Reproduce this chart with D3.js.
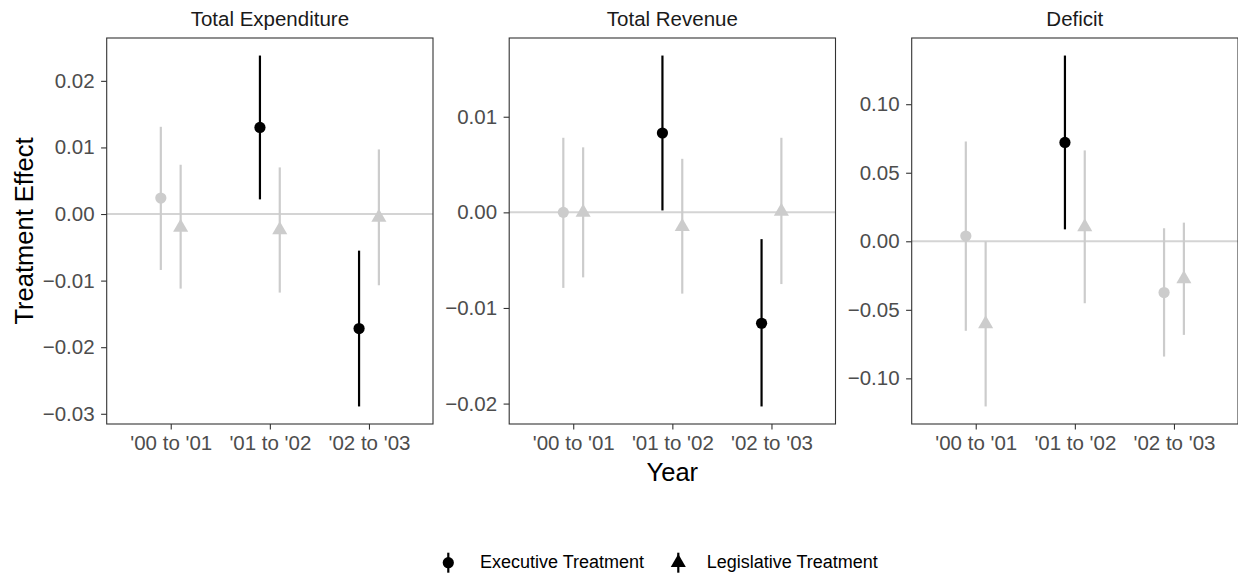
<!DOCTYPE html>
<html>
<head>
<meta charset="utf-8">
<script src="https://cdn.jsdelivr.net/npm/d3@7"></script>
<style>
  html, body { margin: 0; padding: 0; background: #ffffff; }
  svg { display: block; }
  text { font-family: "Liberation Sans", Arial, Helvetica, sans-serif; }
</style>
</head>
<body>
<svg id="chart" width="1238" height="586"></svg>
<script>
// Facets, x categories and the two treatment series
const outcomes = ["Total Expenditure", "Total Revenue", "Deficit"];
const categories = ["'00 to '01", "'01 to '02", "'02 to '03"];
const treatments = ["Executive Treatment", "Legislative Treatment"];

// Executive treatment: estimate and 95% interval, one row per outcome
const execEstimate = [
  [0.0024, 0.0130, -0.0172],
  [0.0000, 0.0083, -0.0116],
  [0.0038, 0.0721, -0.0374]
];
const execLower = [
  [-0.0084, 0.0022, -0.0289],
  [-0.0079, 0.0002, -0.0203],
  [-0.0653, 0.0087, -0.0841]
];
const execUpper = [
  [0.0131, 0.0238, -0.0055],
  [0.0078, 0.0164, -0.0028],
  [0.0728, 0.1355, 0.0095]
];

// Legislative treatment: estimate and 95% interval, one row per outcome
const legEstimate = [
  [-0.0020, -0.0024, -0.0005],
  [0.0000, -0.0015, 0.0001],
  [-0.0603, 0.0105, -0.0274]
];
const legLower = [
  [-0.0112, -0.0118, -0.0107],
  [-0.0068, -0.0085, -0.0075],
  [-0.1205, -0.0452, -0.0683]
];
const legUpper = [
  [0.0074, 0.0070, 0.0097],
  [0.0068, 0.0056, 0.0078],
  [0.0000, 0.0663, 0.0136]
];

// Y tick values per facet
const yTicks = [
  [-0.03, -0.02, -0.01, 0.00, 0.01, 0.02],
  [-0.02, -0.01, 0.00, 0.01],
  [-0.10, -0.05, 0.00, 0.05, 0.10]
];

// ---- layout ----
const panelTop = 38, panelBottom = 424;
const panelWidth = 326.3;
const panelLeft0 = 106.7, panelGap = 402.5;
const tickLen = 5.6;
const dodge = 0.1;           // fraction of the category step
const sigColor = "#000000", nsColor = "#cccccc";
const circleR = 5.6, triR = 8.7;
const tickFont = "20.5px", stripFont = "20.5px", titleFont = "25.5px", legendFont = "18px";

const svg = d3.select("#chart");

function trianglePath(r) {
  const h = r * Math.sqrt(3) / 2;
  return `M0,${-r}L${h},${r / 2}L${-h},${r / 2}Z`;
}

const fmt = d3.format(".2f");

outcomes.forEach((outcome, i) => {
  const left = panelLeft0 + i * panelGap;
  const g = svg.append("g").attr("transform", `translate(${left},0)`);

  // records for this facet
  const rows = [];
  categories.forEach((c, j) => {
    rows.push({ cat: c, type: 0, est: execEstimate[i][j], lo: execLower[i][j], hi: execUpper[i][j] });
    rows.push({ cat: c, type: 1, est: legEstimate[i][j], lo: legLower[i][j], hi: legUpper[i][j] });
  });

  const x = d3.scalePoint().domain(categories).range([0, panelWidth]).padding(0.646);
  const step = x.step();
  const xPos = d => x(d.cat) + (d.type === 0 ? -dodge : dodge) * step;

  const lo = d3.min(rows, d => d.lo), hi = d3.max(rows, d => d.hi);
  const pad = (hi - lo) * 0.05;
  const y = d3.scaleLinear().domain([lo - pad, hi + pad]).range([panelBottom, panelTop]);

  const color = d => (d.lo > 0 || d.hi < 0) ? sigColor : nsColor;

  // zero reference line
  g.append("line")
    .attr("x1", 0).attr("x2", panelWidth)
    .attr("y1", y(0)).attr("y2", y(0))
    .attr("stroke", "#d4d4d4").attr("stroke-width", 2);

  // gray marks first, significant marks on top
  const ordered = rows.slice().sort((a, b) => (color(a) === sigColor) - (color(b) === sigColor));

  g.selectAll("line.ci").data(ordered).enter().append("line")
    .attr("class", "ci")
    .attr("x1", xPos).attr("x2", xPos)
    .attr("y1", d => y(d.lo)).attr("y2", d => y(d.hi))
    .attr("stroke", color).attr("stroke-width", 2.2);

  g.selectAll("circle.pt").data(ordered.filter(d => d.type === 0)).enter().append("circle")
    .attr("class", "pt")
    .attr("cx", xPos).attr("cy", d => y(d.est)).attr("r", circleR)
    .attr("fill", color);

  g.selectAll("path.pt").data(ordered.filter(d => d.type === 1)).enter().append("path")
    .attr("class", "pt")
    .attr("d", trianglePath(triR))
    .attr("transform", d => `translate(${xPos(d)},${y(d.est)})`)
    .attr("fill", color);

  // y axis
  const yAxis = d3.axisLeft(y).tickValues(yTicks[i]).tickFormat(fmt).tickSize(tickLen).tickPadding(6.5);
  const ya = g.append("g").call(yAxis);
  ya.select(".domain").remove();
  ya.selectAll(".tick line").attr("stroke", "#333333").attr("stroke-width", 1.1);
  ya.selectAll(".tick text").attr("fill", "#4d4d4d").style("font-size", tickFont)
    .style("font-family", "'Liberation Sans', Arial, sans-serif");

  // x axis
  const xAxis = d3.axisBottom(x).tickSize(tickLen).tickPadding(6);
  const xa = g.append("g").attr("transform", `translate(0,${panelBottom})`).call(xAxis);
  xa.select(".domain").remove();
  xa.selectAll(".tick line").attr("stroke", "#333333").attr("stroke-width", 1.1);
  xa.selectAll(".tick text").attr("fill", "#4d4d4d").style("font-size", tickFont)
    .style("font-family", "'Liberation Sans', Arial, sans-serif");

  // panel border
  g.append("rect")
    .attr("x", 0).attr("y", panelTop)
    .attr("width", panelWidth).attr("height", panelBottom - panelTop)
    .attr("fill", "none").attr("stroke", "#333333").attr("stroke-width", 1.1);

  // facet title
  g.append("text")
    .attr("x", panelWidth / 2).attr("y", 26)
    .attr("text-anchor", "middle")
    .attr("fill", "#1a1a1a").style("font-size", stripFont)
    .text(outcome);
});

// axis titles
svg.append("text")
  .attr("x", panelLeft0 + panelGap + panelWidth / 2).attr("y", 481)
  .attr("text-anchor", "middle").attr("fill", "#000").style("font-size", titleFont)
  .text("Year");

svg.append("text")
  .attr("transform", `translate(33,${(panelTop + panelBottom) / 2}) rotate(-90)`)
  .attr("text-anchor", "middle").attr("fill", "#000").style("font-size", titleFont)
  .text("Treatment Effect");

// legend
const legendX = [448.3, 678.3];
const legendTextX = [480, 706.7];
const legendY = 562.7;
const lg = svg.append("g");
treatments.forEach((t, k) => {
  const kg = lg.append("g").attr("transform", `translate(${legendX[k]},${legendY})`);
  kg.append("line").attr("x1", 0).attr("x2", 0).attr("y1", -10).attr("y2", 10)
    .attr("stroke", "#000").attr("stroke-width", 2.2);
  if (k === 0) kg.append("circle").attr("r", circleR).attr("fill", "#000");
  else kg.append("path").attr("d", trianglePath(triR)).attr("fill", "#000");
  lg.append("text").attr("x", legendTextX[k]).attr("y", legendY + 4.8)
    .attr("fill", "#000").style("font-size", legendFont).text(t);
});
</script>
</body>
</html>
